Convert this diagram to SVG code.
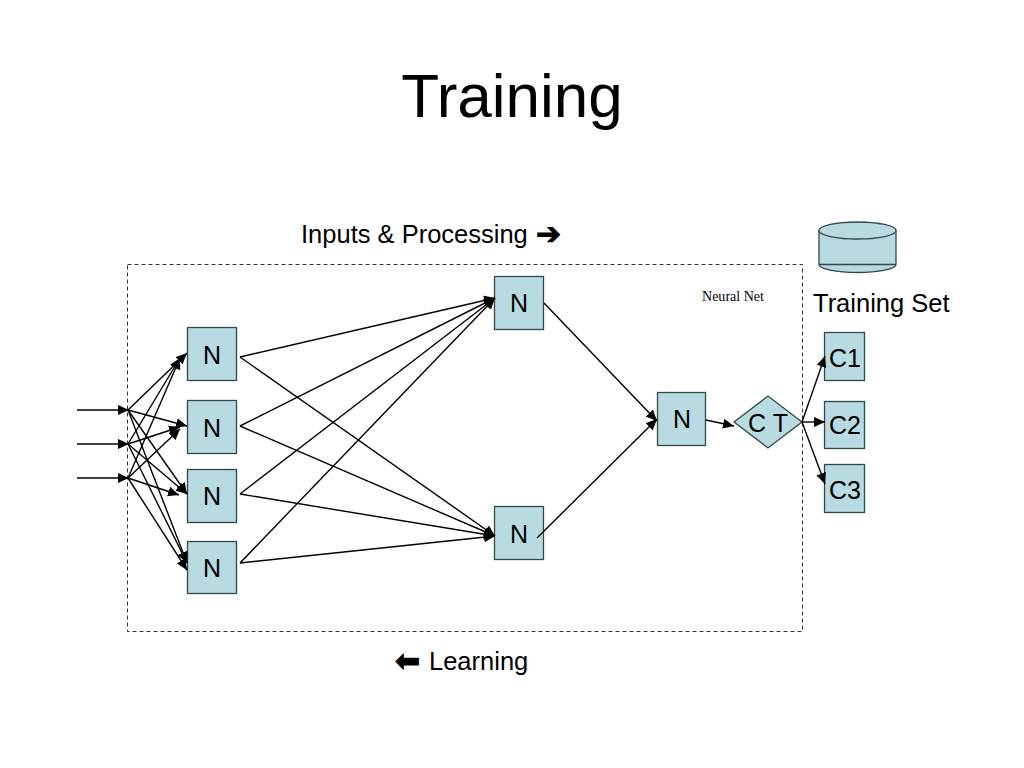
<svg xmlns="http://www.w3.org/2000/svg" width="1024" height="768" viewBox="0 0 1024 768">
<style>
text{font-family:"Liberation Sans",Arial,sans-serif;fill:#000}
.s{fill:#b7dbe0;stroke:#33484c;stroke-width:1.3}
.n{font-size:25px;text-anchor:middle}
.l{font-size:25.500px}
.g{font-family:"DejaVu Sans",sans-serif;stroke:#000;stroke-width:1}
.c{stroke:#000;stroke-width:1.4;fill:none;marker-end:url(#a)}
</style>
<defs><marker id="a" markerUnits="userSpaceOnUse" markerWidth="13" markerHeight="11" refX="11" refY="5" orient="auto"><path d="M0 0L11 5L0 10Z" fill="#000"/></marker></defs>
<rect width="1024" height="768" fill="#fff"/>
<text x="512" y="117" font-size="62" text-anchor="middle">Training</text>
<text id="inputs" class="l" x="301" y="243">Inputs &amp; Processing</text>
<text class="g" x="536" y="244" font-size="30">➔</text>
<text class="g" x="395" y="671" font-size="30">⬅</text>
<text id="learning" class="l" x="429" y="670">Learning</text>
<rect id="net" x="127.500" y="264.500" width="675" height="367" fill="none" stroke="#333" stroke-width="1" stroke-dasharray="4 3"/>
<text x="733" y="301" font-size="14.300" text-anchor="middle" style="font-family:'Liberation Serif',serif" textLength="62" lengthAdjust="spacingAndGlyphs">Neural Net</text>
<g id="n1"><rect class="s" x="187.500" y="327.500" width="49" height="53"/><text class="n" x="212" y="364">N</text></g>
<g id="n2"><rect class="s" x="187.500" y="400.500" width="49" height="53"/><text class="n" x="212" y="437">N</text></g>
<g id="n3"><rect class="s" x="187.500" y="469.500" width="49" height="53"/><text class="n" x="212" y="505">N</text></g>
<g id="n4"><rect class="s" x="187.500" y="541.500" width="49" height="52"/><text class="n" x="212" y="577">N</text></g>
<g id="n5"><rect class="s" x="494.500" y="276.500" width="49" height="53"/><text class="n" x="519" y="312">N</text></g>
<g id="n6"><rect class="s" x="494.500" y="506.500" width="49" height="53"/><text class="n" x="519" y="543">N</text></g>
<g id="n7"><rect class="s" x="657.500" y="392.500" width="48" height="53"/><text class="n" x="682" y="428">N</text></g>
<g id="ct"><path class="s" d="M734 422L768 396L802 422L768 448Z"/><text class="n" x="768" y="432">C T</text></g>
<g id="c1"><rect class="s" x="824.500" y="332.500" width="40" height="48"/><text class="n" x="845" y="367">C1</text></g>
<g id="c2"><rect class="s" x="824.500" y="401.500" width="40" height="47"/><text class="n" x="845" y="434">C2</text></g>
<g id="c3"><rect class="s" x="824.500" y="464.500" width="40" height="48"/><text class="n" x="845" y="499">C3</text></g>
<g id="db"><path class="s" d="M819 230.500V264.500A38.500 8 0 0 0 896 264.500V230.500Z"/><ellipse class="s" cx="857.500" cy="230.500" rx="38.500" ry="8.500"/><path class="s" d="M819 264.500H896"/></g>
<text class="l" x="813" y="312">Training Set</text>
<g id="connectors">
<path class="c" d="M77 410H129"/><path class="c" d="M77 444H129"/><path class="c" d="M77 478H129"/>
<path class="c" d="M128 410L187 353"/><path class="c" d="M128 444L180 358"/><path class="c" d="M128 478L180 358"/>
<path class="c" d="M128 410L187 426"/><path class="c" d="M128 444L180 427"/><path class="c" d="M128 478L180 429"/>
<path class="c" d="M128 410L187 494"/><path class="c" d="M128 444L187 494"/><path class="c" d="M128 478L179 495"/>
<path class="c" d="M128 410L187 563"/><path class="c" d="M128 444L187 563"/><path class="c" d="M128 478L187 570"/>
<path class="c" d="M240 357L495 298"/><path class="c" d="M240 426L495 298"/><path class="c" d="M240 494L495 298"/><path class="c" d="M240 563L495 298"/>
<path class="c" d="M240 357L495 536"/><path class="c" d="M240 426L495 536"/><path class="c" d="M240 494L495 536"/><path class="c" d="M240 563L495 536"/>
<path class="c" d="M544 303L657 421"/><path class="c" d="M537 538L657 419"/>
<path class="c" d="M706 420L734 426"/>
<path class="c" d="M802 422L825 356"/><path class="c" d="M802 422H825"/><path class="c" d="M802 422L825 484"/>
</g>
</svg>
